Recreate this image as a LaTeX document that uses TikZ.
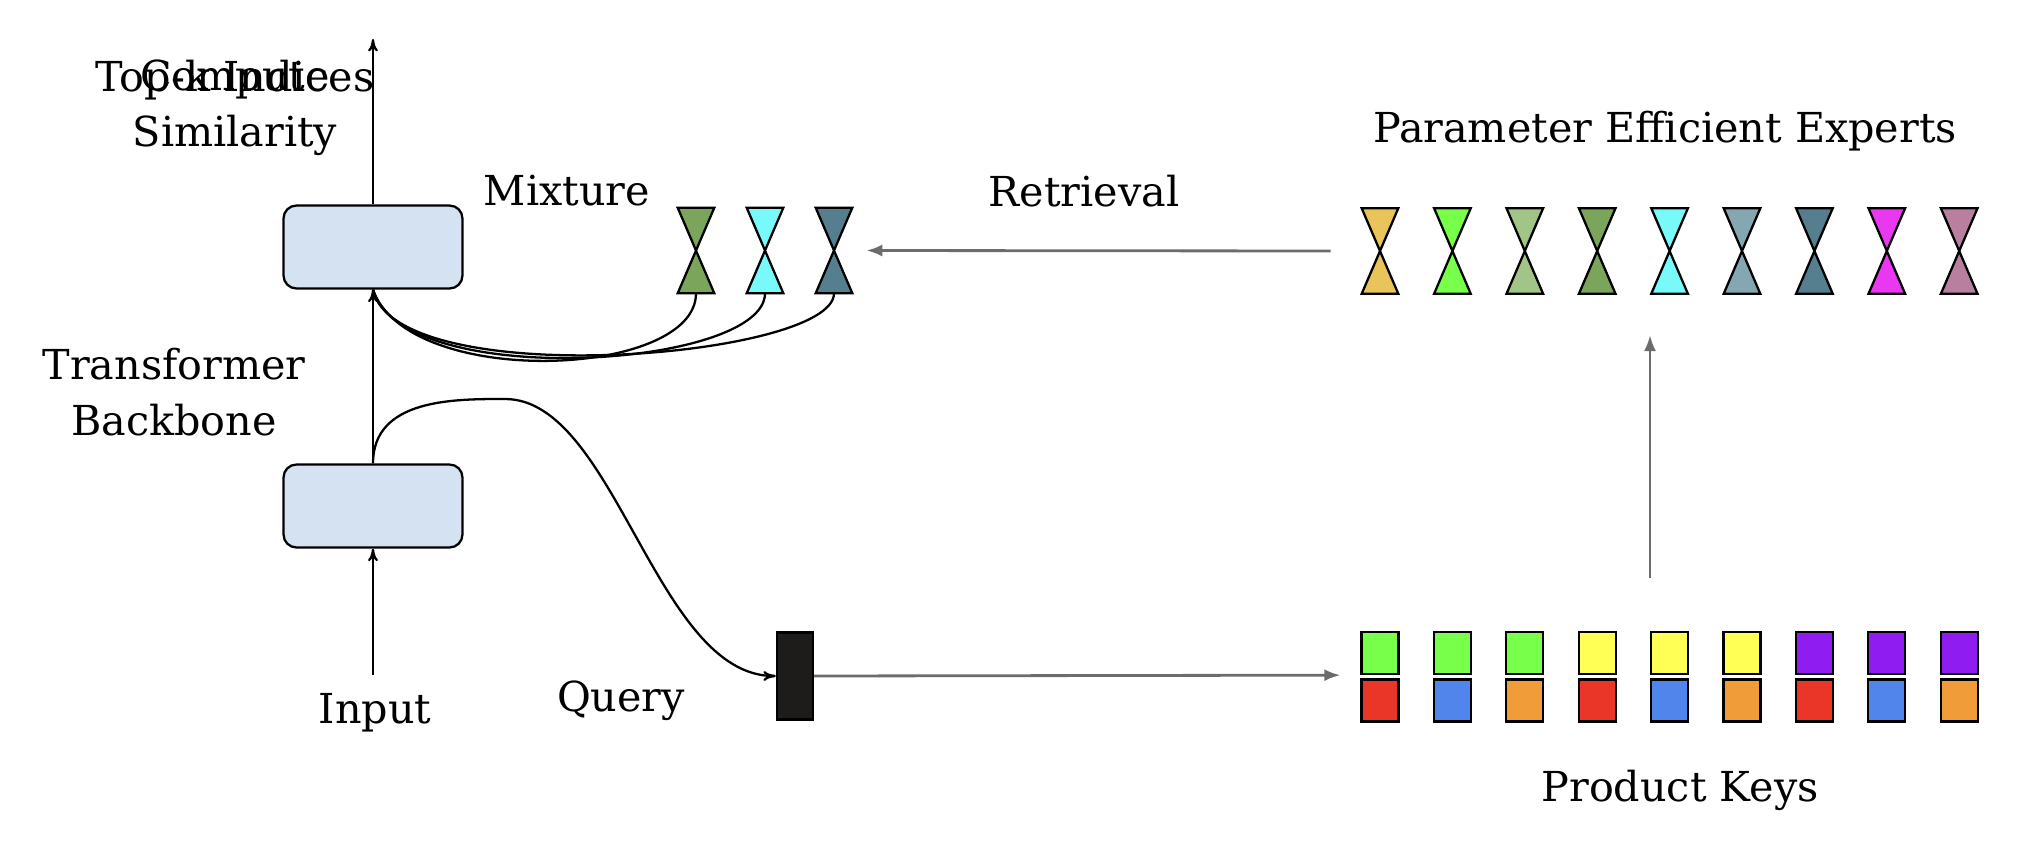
\documentclass[tikz,border=0pt]{standalone}
\usepackage{fontspec}
\setmainfont{DejaVu Serif}
\usepackage{xcolor}
\usetikzlibrary{shapes,arrows,arrows.meta,positioning}
\definecolor{boxblue}{HTML}{D4E2F1}
\definecolor{expgold}{HTML}{E9C45A}
\definecolor{expgreen}{HTML}{77FF4A}
\definecolor{explight}{HTML}{A1C487}
\definecolor{expolive}{HTML}{7BA55A}
\definecolor{expcyan}{HTML}{78FAFA}
\definecolor{expslate}{HTML}{84A7B2}
\definecolor{expteal}{HTML}{557F8E}
\definecolor{expmagenta}{HTML}{E938F0}
\definecolor{expmauve}{HTML}{B97F9E}
\definecolor{keygreen}{HTML}{77FF4A}
\definecolor{keyyellow}{HTML}{FFFF55}
\definecolor{keypurple}{HTML}{8F1CF0}
\definecolor{keyred}{HTML}{EA3628}
\definecolor{keyblue}{HTML}{5185EC}
\definecolor{keyorange}{HTML}{F09D39}
\definecolor{querydark}{HTML}{1D1C1A}
\tikzstyle{block} = [rectangle, draw, rounded corners=0.26cm, fill=boxblue,
    line width=1.3pt, minimum width=3.58cm, minimum height=1.66cm]
\tikzstyle{label} = [font=\fontsize{23.5}{32}\selectfont, align=center]
\tikzstyle{hourglass} = [inner sep=0pt, minimum width=0.72cm, minimum height=1.7cm]
\tikzstyle{keybox} = [rectangle, draw, line width=1.3pt, inner sep=0pt,
    minimum width=0.74cm, minimum height=0.84cm]
\tikzstyle{line} = [draw, -{To[length=0.25cm,width=0.2cm]}, line width=1.3pt]
\tikzstyle{wire} = [draw, line width=1.3pt]
\tikzstyle{grayline} = [draw, -{Latex[length=0.32cm,width=0.24cm]}, line width=1.6pt, gray!85!black]

\begin{document}
\begin{tikzpicture}[x=0.02cm, y=-0.02cm, node distance = 1cm, auto]
    \useasboundingbox (0,0) rectangle (2036,856);
    % Place nodes
    \node [block] (upper) at (373,247) {};
    \node [block] (lower) at (373,506) {};
    \coordinate (topout) at (373,39);
    \coordinate (inp) at (373,675);
    \node [label] (lblin) at (375,713) {Input};
    \node [label] (lblsim) at (235,108) {Compute\\Similarity};
    \node [label] (lbltopk) at (235,80) {Top-k Indices};
    \node [label] (lblback) at (174,392) {Transformer\\Backbone};
    \node [label] (lblmix) at (567,191) {Mixture};
    \node [label] (lblret) at (1084,191) {Retrieval};
    \node [label] (lblexp) at (1665,131) {Parameter Efficient Experts};
    \node [label] (lblquery) at (621,701) {Query};
    \node [label] (lblkeys) at (1680,790) {Product Keys};
    \node [rectangle, draw, fill=querydark, line width=1.3pt, inner sep=0pt,
        minimum width=0.72cm, minimum height=1.74cm] (query) at (795,676) {};

    % mixture
    \foreach \c [count=\i] in {expolive, expcyan, expteal} {
        \node [hourglass] (mix\i) at ({627+69*\i},250.5) {};
        \filldraw [fill=\c, line width=1.3pt] (mix\i.north west) -- (mix\i.north east)
            -- (mix\i.south west) -- (mix\i.south east) -- cycle;
    }
    % experts
    \foreach \c [count=\i from 0] in {expgold, expgreen, explight, expolive, expcyan,
        expslate, expteal, expmagenta, expmauve} {
        \node [hourglass] (exp\i) at ({1380+72.4*\i},251) {};
        \filldraw [fill=\c, line width=1.3pt] (exp\i.north west) -- (exp\i.north east)
            -- (exp\i.south west) -- (exp\i.south east) -- cycle;
    }
    % product keys
    \foreach \tc/\bc [count=\i from 0] in {keygreen/keyred, keygreen/keyblue,
        keygreen/keyorange, keyyellow/keyred, keyyellow/keyblue, keyyellow/keyorange,
        keypurple/keyred, keypurple/keyblue, keypurple/keyorange} {
        \node [keybox, fill=\tc] (keyt\i) at ({1380+72.4*\i},653) {};
        \node [keybox, fill=\bc] (keyb\i) at ({1380+72.4*\i},700.5) {};
    }
    \coordinate (keysup) at (1650,578);
    \coordinate (expdown) at (1650,335);

    \path [line] (inp) -- (lower);
    \path [line] (lower) -- (upper);
    \path [line] (upper) -- (topout);
    \path [wire] (mix1.south) .. controls +(0,85) and +(35,100) .. (upper.south);
    \path [wire] (mix2.south) .. controls +(0,75) and +(28,102) .. (upper.south);
    \path [wire] (mix3.south) .. controls +(0,65) and +(22,104) .. (upper.south);
    \path [line] (lower.north) .. controls +(0,-65) and +(-50,0) .. (505,399)
        .. controls +(110,0) and +(-120,0) .. (query.west);
    \path [grayline] (query.east) -- ([xshift=-0.4cm]keyt0.south west);
    \path [grayline] ([xshift=-0.62cm]exp0.west) -- ([xshift=0.28cm]mix3.east);
    \path [grayline] (keysup) -- (expdown);
\end{tikzpicture}
\end{document}
